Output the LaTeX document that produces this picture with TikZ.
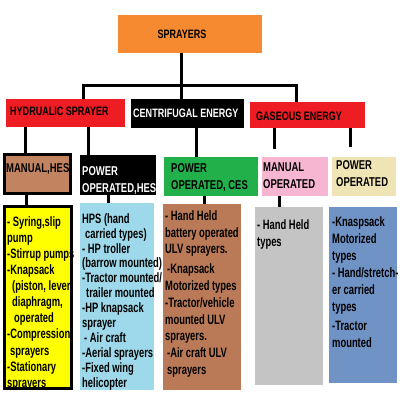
\documentclass[tikz,border=0pt]{standalone}
\usepackage{fontspec}
\newfontfamily\nf{Liberation Sans}[FakeStretch=0.74]
\newfontfamily\nfb{Liberation Sans}[FakeStretch=0.69]
\definecolor{cOrange}{HTML}{F68A30}
\definecolor{cRed}{HTML}{EE1D23}
\definecolor{cBrownA}{HTML}{C28460}
\definecolor{cGreen}{HTML}{22B04B}
\definecolor{cPink}{HTML}{F6B5D1}
\definecolor{cBeige}{HTML}{EFE4B4}
\definecolor{cYellow}{HTML}{FFFF00}
\definecolor{cLBlue}{HTML}{9DD9EA}
\definecolor{cBrownB}{HTML}{BA7A58}
\definecolor{cGrey}{HTML}{C4C4C4}
\definecolor{cBlue}{HTML}{7093C6}
\begin{document}
\begin{tikzpicture}[x=1pt,y=-1pt,
  box/.style={inner sep=0pt, outer sep=0pt, anchor=north west},
  head/.style={inner sep=0pt, anchor=base west, font=\nf\bfseries\fontsize{12.2}{16}\selectfont},
  sub/.style={inner sep=0pt, anchor=north west, align=left, font=\nf\bfseries\fontsize{12.8}{17}\selectfont},
  body/.style={inner sep=0pt, anchor=north west, align=left, font=\nfb\bfseries\fontsize{13.6}{#1}\selectfont},
  conn/.style={line width=3pt, draw=black}]
\useasboundingbox (0,0) rectangle (400,400);
\fill[white] (0,0) rectangle (400,400);
% level 1
\node[box, fill=cOrange, minimum width=144pt, minimum height=38pt] (spr) at (118,15) {};
\node[head, anchor=center] (sprt) at (182,34) {SPRAYERS};
% level 2
\node[box, fill=cRed, minimum width=119pt, minimum height=28pt] (hyd) at (6,99) {};
\node[head] (hydt) at (10,115.5) {HYDRUALIC SPRAYER};
\node[box, fill=black, minimum width=113pt, minimum height=29pt] (cen) at (131,99) {};
\node[head, text=white] (cent) at (133,117.5) {CENTRIFUGAL ENERGY};
\node[box, fill=cRed, minimum width=115pt, minimum height=26pt] (gas) at (250,102) {};
\node[head] (gast) at (256,120.5) {GASEOUS ENERGY};
% level 3
\node[box, fill=cBrownA, draw=black, line width=3pt, minimum width=66pt, minimum height=39pt] (mh) at (4.5,154.5) {};
\node[sub, anchor=base west] (mht) at (6,172.5) {MANUAL,HES};
\node[box, fill=black, minimum width=76pt, minimum height=40pt] (ph) at (80,155) {};
\node[sub, text=white] (pht) at (82,166.5) {POWER\\OPERATED,HES};
\node[box, fill=cGreen, minimum width=94pt, minimum height=39pt] (pc) at (164,157) {};
\node[sub] (pct) at (171,163.5) {POWER\\OPERATED, CES};
\node[box, fill=cPink, minimum width=66pt, minimum height=39pt] (mo) at (262,157) {};
\node[sub] (mot) at (263,162.5) {MANUAL\\OPERATED};
\node[box, fill=cBeige, minimum width=64pt, minimum height=39pt] (po) at (332,157) {};
\node[sub] (pot) at (336,160.5) {POWER\\OPERATED};
% level 4
\node[box, fill=cYellow, minimum width=70pt, minimum height=185pt] (yb) at (3,205) {};
\node[box, fill=cLBlue, minimum width=74pt, minimum height=187pt] (lb) at (80,203) {};
\node[box, fill=cBrownB, minimum width=78pt, minimum height=186pt] (bb) at (163,204) {};
\node[box, fill=cGrey, minimum width=68pt, minimum height=178pt] (gb) at (255,207) {};
\node[box, fill=cBlue, minimum width=68pt, minimum height=176pt] (blb) at (329,207) {};
\begin{scope}
\clip (3,205) rectangle (73,390);
\node[body=16.1pt] (ybt) at (7,216.2) {- Syring,slip\\pump\\-Stirrup pumps\\-Knapsack\\\hspace*{5pt}(piston, lever\\\hspace*{5pt}diaphragm,\\\hspace*{7pt}operated\\-Compression\\\hspace*{3pt}sprayers\\-Stationary\\sprayers};
\end{scope}
\draw[line width=3pt] (4.5,206.5) rectangle (71.5,388.5);
\node[body=14.9pt] (lbt) at (82,213.2) {HPS (hand\\\hspace*{3pt}carried types)\\- HP troller\\(barrow mounted)\\-Tractor mounted/\\\hspace*{4pt}trailer mounted\\-HP knapsack\\sprayer\\\hspace*{2pt}- Air craft\\-Aerial sprayers\\-Fixed wing\\helicopter};
\node[body=16.8pt] (bbt) at (165,210.2) {- Hand Held\\battery operated\\ULV sprayers.\\[3pt]\hspace*{2pt}-Knapsack\\Motorized types\\-Tractor/vehicle\\mounted ULV\\sprayers.\\\hspace*{2pt}-Air craft ULV\\\hspace*{2pt}sprayers};
\node[body=17pt] (gbt) at (257,219.2) {- Hand Held\\types};
\node[body=17pt] (blbt) at (332,216.2) {-Knaspsack\\Motorized\\types\\- Hand/stretch-\\er carried\\types\\[2pt]-Tractor\\mounted};
% connectors
\coordinate (j) at (181,85);
\coordinate (jl) at (83,85);
\coordinate (jr) at (296,85);
\draw[conn] (spr.south -| j) -- (j);
\draw[conn] (jl |- hyd.north) -- (jl) -- (jr) -- (jr |- gas.north);
\draw[conn] (j) -- (j |- cen.north);
\draw[conn] ([xshift=19pt]hyd.south west) -- ([xshift=20.5pt]mh.north west);
\draw[conn] ([xshift=82pt]hyd.south west) -- ([xshift=8pt]ph.north west);
\draw[conn] ([xshift=65pt]cen.south west) -- ([xshift=32pt]pc.north west);
\draw[conn, shorten >=8pt] ([xshift=24pt]gas.south west) -- ([xshift=12pt]mo.north west);
\draw[conn, shorten >=10pt] ([xshift=100pt]gas.south west) -- ([xshift=18pt]po.north west);
\draw[conn] ([xshift=21.5pt]mh.south west) -- ([xshift=23pt]yb.north west);
\draw[conn] ([xshift=28pt]ph.south west) -- ([xshift=28pt]lb.north west);
\draw[conn] ([xshift=40pt]pc.south west) -- ([xshift=41pt]bb.north west);
\draw[conn] ([xshift=17pt]mo.south west) -- ([xshift=24pt]gb.north west);
\end{tikzpicture}
\end{document}
